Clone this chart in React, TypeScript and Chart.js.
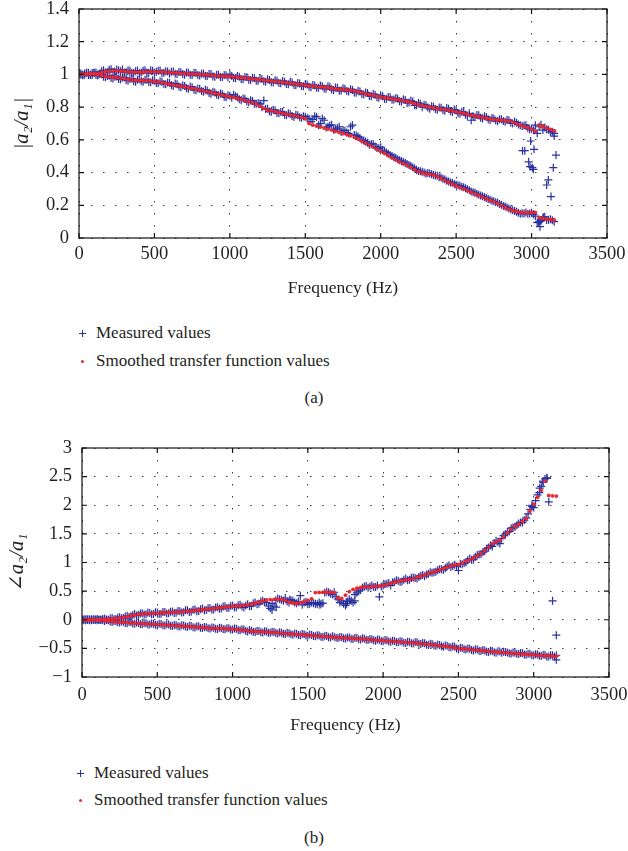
import React, { useEffect, useRef } from 'react';
import { Chart, registerables } from 'chart.js';
Chart.register(...registerables);

const FONT = "'Liberation Serif', 'DejaVu Serif', serif";
const BLUE = 'rgb(40,50,158)';
const RED = 'rgb(236,40,46)';
const INK = '#231f20';

// frequency bins of the samples (Hz): main bins 25 Hz apart (0 … 3150),
// and the in-between measured bins (12.5 … 3137.5)
const freq = Array.from({ length: 127 }, (_, i) => i * 25);
const freqMid = Array.from({ length: 126 }, (_, i) => 12.5 + i * 25);

const xTicks = [0, 500, 1000, 1500, 2000, 2500, 3000, 3500];

// ---------- (a) |a2/a1| ----------
const smoothA_upper = [
  1.000, 1.002, 1.004, 1.005, 1.005, 1.004, 1.012, 1.018,
  1.020, 1.022, 1.022, 1.021, 1.020, 1.017, 1.015, 1.014,
  1.015, 1.015, 1.016, 1.017, 1.017, 1.016, 1.015, 1.014,
  1.012, 1.011, 1.010, 1.007, 1.005, 1.004, 1.003, 1.002,
  1.000, 0.999, 0.998, 0.996, 0.993, 0.991, 0.990, 0.989,
  0.988, 0.985, 0.982, 0.980, 0.978, 0.975, 0.972, 0.970,
  0.968, 0.965, 0.962, 0.960, 0.958, 0.955, 0.952, 0.950,
  0.947, 0.943, 0.940, 0.938, 0.935, 0.930, 0.927, 0.926,
  0.924, 0.922, 0.920, 0.916, 0.912, 0.910, 0.908, 0.906,
  0.903, 0.899, 0.895, 0.888, 0.882, 0.877, 0.872, 0.867,
  0.862, 0.858, 0.855, 0.852, 0.848, 0.844, 0.840, 0.835,
  0.830, 0.822, 0.815, 0.810, 0.805, 0.800, 0.795, 0.791,
  0.788, 0.785, 0.782, 0.777, 0.772, 0.767, 0.762, 0.756,
  0.750, 0.746, 0.742, 0.737, 0.732, 0.728, 0.725, 0.722,
  0.720, 0.718, 0.715, 0.707, 0.698, 0.690, 0.682, 0.674,
  0.665, 0.652, 0.688, 0.682, 0.672, 0.664, 0.656,
];
const measA_upper = [
  1.000, 0.995, 1.008, 1.000, 1.010, 0.998, 1.020, 1.012,
  1.028, 1.015, 1.030, 1.020, 1.012, 1.025, 1.010, 1.020,
  1.008, 1.022, 1.012, 1.025, 1.010, 1.022, 1.008, 1.020,
  1.005, 1.018, 1.003, 1.014, 0.998, 1.010, 0.996, 1.008,
  0.993, 1.006, 0.990, 1.003, 0.986, 0.998, 0.983, 0.995,
  1.000, 0.978, 0.990, 0.972, 0.985, 0.968, 0.980, 0.962,
  0.975, 0.958, 0.970, 0.952, 0.965, 0.948, 0.960, 0.942,
  0.955, 0.936, 0.948, 0.930, 0.942, 0.925, 0.935, 0.918,
  0.932, 0.914, 0.928, 0.908, 0.920, 0.900, 0.915, 0.898,
  0.910, 0.890, 0.900, 0.880, 0.890, 0.868, 0.880, 0.860,
  0.872, 0.850, 0.862, 0.845, 0.856, 0.836, 0.848, 0.826,
  0.840, 0.810, 0.826, 0.800, 0.812, 0.790, 0.802, 0.784,
  0.796, 0.778, 0.790, 0.770, 0.780, 0.760, 0.770, 0.748,
  0.720, 0.738, 0.750, 0.730, 0.740, 0.720, 0.730, 0.715,
  0.726, 0.710, 0.720, 0.700, 0.705, 0.690, 0.688, 0.672,
  0.668, 0.690, 0.680, 0.660, 0.665, 0.648, 0.640,
];
const measA_upperMid = [
  1.006, 0.998, 1.010, 0.996, 1.012, 1.004, 1.025, 1.014,
  1.032, 1.018, 1.026, 1.030, 1.014, 1.022, 1.008, 1.024,
  1.012, 1.026, 1.008, 1.022, 1.016, 1.024, 1.010, 1.018,
  1.016, 1.004, 1.015, 1.002, 1.012, 0.998, 1.010, 0.996,
  1.004, 0.992, 1.002, 0.988, 0.998, 0.984, 0.996, 0.982,
  0.990, 0.976, 0.986, 0.970, 0.982, 0.966, 0.976, 0.962,
  0.972, 0.956, 0.966, 0.950, 0.962, 0.946, 0.956, 0.940,
  0.950, 0.934, 0.944, 0.928, 0.938, 0.922, 0.932, 0.918,
  0.928, 0.912, 0.924, 0.904, 0.918, 0.902, 0.912, 0.896,
  0.905, 0.888, 0.896, 0.878, 0.886, 0.866, 0.876, 0.858,
  0.866, 0.852, 0.860, 0.846, 0.852, 0.834, 0.844, 0.828,
  0.834, 0.812, 0.820, 0.815, 0.798, 0.806, 0.788, 0.798,
  0.782, 0.794, 0.776, 0.785, 0.764, 0.772, 0.754, 0.762,
  0.745, 0.752, 0.735, 0.744, 0.726, 0.734, 0.718, 0.726,
  0.716, 0.722, 0.705, 0.712, 0.694, 0.684, 0.690, 0.664,
  0.658, 0.640, 0.692, 0.676, 0.662, 0.650,
];
const smoothA_lower = [
  1.000, 1.000, 1.002, 1.003, 1.002, 1.000, 0.993, 0.988,
  0.985, 0.983, 0.981, 0.978, 0.975, 0.970, 0.966, 0.965,
  0.964, 0.963, 0.962, 0.960, 0.958, 0.954, 0.950, 0.945,
  0.940, 0.936, 0.932, 0.928, 0.924, 0.920, 0.915, 0.910,
  0.906, 0.900, 0.895, 0.890, 0.884, 0.878, 0.873, 0.868,
  0.864, 0.860, 0.855, 0.848, 0.840, 0.834, 0.828, 0.818,
  0.805, 0.792, 0.782, 0.778, 0.773, 0.768, 0.762, 0.757,
  0.752, 0.748, 0.744, 0.738, 0.730, 0.700, 0.690, 0.684,
  0.678, 0.672, 0.666, 0.660, 0.652, 0.645, 0.638, 0.632,
  0.625, 0.615, 0.605, 0.592, 0.580, 0.568, 0.556, 0.542,
  0.530, 0.518, 0.505, 0.490, 0.478, 0.466, 0.455, 0.445,
  0.432, 0.418, 0.405, 0.398, 0.392, 0.390, 0.385, 0.376,
  0.365, 0.352, 0.340, 0.330, 0.318, 0.310, 0.300, 0.290,
  0.280, 0.270, 0.260, 0.250, 0.240, 0.230, 0.222, 0.212,
  0.200, 0.186, 0.176, 0.168, 0.162, 0.157, 0.155, 0.155,
  0.156, 0.157, 0.125, 0.120, 0.115, 0.112, 0.110,
];
const measA_lower = [
  1.005, 0.998, 1.010, 0.996, 1.008, 0.994, 1.000, 0.982,
  0.992, 0.975, 0.988, 0.970, 0.982, 0.962, 0.975, 0.956,
  0.970, 0.955, 0.968, 0.952, 0.962, 0.946, 0.956, 0.940,
  0.948, 0.930, 0.940, 0.922, 0.930, 0.912, 0.922, 0.904,
  0.912, 0.894, 0.902, 0.882, 0.890, 0.872, 0.880, 0.860,
  0.870, 0.876, 0.860, 0.842, 0.850, 0.830, 0.838, 0.820,
  0.820, 0.840, 0.790, 0.772, 0.780, 0.762, 0.770, 0.750,
  0.760, 0.740, 0.750, 0.735, 0.742, 0.730, 0.725, 0.740,
  0.700, 0.720, 0.680, 0.692, 0.665, 0.680, 0.660, 0.645,
  0.680, 0.630, 0.620, 0.600, 0.590, 0.570, 0.575, 0.550,
  0.555, 0.530, 0.515, 0.502, 0.490, 0.475, 0.465, 0.452,
  0.440, 0.425, 0.410, 0.405, 0.395, 0.395, 0.385, 0.380,
  0.370, 0.358, 0.345, 0.338, 0.325, 0.320, 0.310, 0.298,
  0.285, 0.276, 0.264, 0.255, 0.244, 0.234, 0.224, 0.215,
  0.204, 0.192, 0.180, 0.170, 0.160, 0.148, 0.150, 0.148,
  0.155, 0.134, 0.100, 0.120, 0.110, 0.115, 0.100,
];
const measA_lowerMid = [
  0.998, 1.006, 0.996, 1.008, 0.996, 1.004, 0.986, 0.990,
  0.978, 0.986, 0.972, 0.980, 0.966, 0.974, 0.958, 0.968,
  0.958, 0.968, 0.954, 0.964, 0.948, 0.958, 0.942, 0.950,
  0.934, 0.944, 0.926, 0.934, 0.916, 0.926, 0.906, 0.914,
  0.898, 0.906, 0.886, 0.894, 0.876, 0.884, 0.864, 0.872,
  0.858, 0.866, 0.848, 0.854, 0.834, 0.842, 0.820, 0.826,
  0.800, 0.788, 0.774, 0.784, 0.764, 0.772, 0.754, 0.762,
  0.746, 0.754, 0.738, 0.745, 0.732, 0.712, 0.745, 0.690,
  0.730, 0.676, 0.688, 0.662, 0.672, 0.648, 0.656, 0.640,
  0.690, 0.626, 0.612, 0.596, 0.582, 0.575, 0.560, 0.548,
  0.538, 0.522, 0.508, 0.494, 0.482, 0.470, 0.458, 0.446,
  0.432, 0.418, 0.408, 0.400, 0.398, 0.390, 0.382, 0.372,
  0.362, 0.350, 0.340, 0.330, 0.322, 0.314, 0.304, 0.292,
  0.280, 0.270, 0.260, 0.250, 0.238, 0.228, 0.218, 0.208,
  0.196, 0.186, 0.174, 0.165, 0.155, 0.152, 0.156, 0.150,
  0.145, 0.095, 0.105, 0.130, 0.112, 0.108,
];
// scattered measured points near the upper end of the band
const extraA_freq = [2940, 2955, 2981, 2990, 2994, 3005, 3012, 3016, 3045, 3056, 3062, 3078, 3100, 3111, 3129, 3144, 3150, 3162];
const extraA_val = [0.534, 0.534, 0.466, 0.436, 0.593, 0.430, 0.420, 0.542, 0.094, 0.069, 0.110, 0.127, 0.324, 0.355, 0.253, 0.430, 0.623, 0.507];
const yTicksA = [0, 0.2, 0.4, 0.6, 0.8, 1, 1.2, 1.4];

// ---------- (b) angle a2/a1 ----------
const smoothB_upper = [
  0.000, 0.002, 0.000, 0.000, 0.003, 0.005, 0.010, 0.015,
  0.020, 0.025, 0.030, 0.040, 0.055, 0.070, 0.085, 0.095,
  0.100, 0.105, 0.108, 0.110, 0.113, 0.118, 0.122, 0.127,
  0.130, 0.133, 0.138, 0.142, 0.148, 0.155, 0.163, 0.170,
  0.178, 0.185, 0.190, 0.198, 0.205, 0.212, 0.220, 0.228,
  0.235, 0.240, 0.245, 0.252, 0.260, 0.275, 0.290, 0.310,
  0.330, 0.345, 0.352, 0.355, 0.357, 0.357, 0.335, 0.310,
  0.290, 0.285, 0.300, 0.315, 0.340, 0.365, 0.475, 0.478,
  0.480, 0.480, 0.480, 0.470, 0.380, 0.370, 0.430, 0.490,
  0.530, 0.550, 0.565, 0.575, 0.578, 0.580, 0.582, 0.588,
  0.600, 0.615, 0.635, 0.655, 0.670, 0.685, 0.695, 0.705,
  0.715, 0.745, 0.760, 0.780, 0.800, 0.830, 0.850, 0.870,
  0.895, 0.920, 0.940, 0.955, 0.965, 0.990, 1.020, 1.050,
  1.080, 1.120, 1.160, 1.210, 1.270, 1.330, 1.360, 1.390,
  1.450, 1.520, 1.580, 1.630, 1.670, 1.720, 1.770, 1.900,
  2.020, 2.140, 2.260, 2.420, 2.170, 2.165, 2.160,
];
const measB_upper = [
  0.005, -0.010, 0.010, -0.005, 0.012, -0.004, 0.020, 0.000,
  0.030, 0.015, 0.045, 0.030, 0.070, 0.060, 0.100, 0.085,
  0.115, 0.095, 0.120, 0.100, 0.125, 0.105, 0.135, 0.115,
  0.145, 0.122, 0.150, 0.130, 0.165, 0.140, 0.180, 0.155,
  0.195, 0.170, 0.205, 0.180, 0.220, 0.195, 0.235, 0.210,
  0.250, 0.220, 0.260, 0.215, 0.270, 0.240, 0.300, 0.280,
  0.330, 0.300, 0.200, 0.240, 0.370, 0.350, 0.380, 0.300,
  0.330, 0.290, 0.420, 0.300, 0.270, 0.300, 0.280, 0.300,
  0.290, 0.490, 0.460, 0.480, 0.360, 0.330, 0.250, 0.360,
  0.300, 0.470, 0.520, 0.580, 0.560, 0.600, 0.570, 0.400,
  0.600, 0.630, 0.600, 0.660, 0.680, 0.670, 0.720, 0.700,
  0.740, 0.720, 0.770, 0.760, 0.800, 0.820, 0.840, 0.880,
  0.870, 0.930, 0.920, 0.960, 0.860, 0.970, 1.000, 1.070,
  1.050, 1.130, 1.150, 1.200, 1.260, 1.280, 1.380, 1.330,
  1.470, 1.530, 1.600, 1.620, 1.680, 1.700, 1.780, 1.930,
  1.960, 2.180, 2.330, 2.460, 2.060, 0.330, -0.270,
];
const measB_upperMid = [
  -0.008, 0.008, -0.010, 0.010, -0.006, 0.012, 0.005, 0.020,
  0.010, 0.040, 0.025, 0.055, 0.050, 0.085, 0.075, 0.110,
  0.090, 0.125, 0.095, 0.130, 0.100, 0.135, 0.110, 0.140,
  0.120, 0.155, 0.125, 0.165, 0.135, 0.175, 0.150, 0.185,
  0.165, 0.200, 0.175, 0.215, 0.190, 0.230, 0.205, 0.245,
  0.215, 0.255, 0.230, 0.250, 0.235, 0.290, 0.270, 0.320,
  0.310, 0.240, 0.280, 0.340, 0.360, 0.330, 0.320, 0.340,
  0.300, 0.320, 0.260, 0.310, 0.280, 0.290, 0.270, 0.280,
  0.470, 0.480, 0.440, 0.400, 0.300, 0.280, 0.320, 0.330,
  0.440, 0.500, 0.560, 0.590, 0.580, 0.570, 0.600, 0.580,
  0.620, 0.640, 0.650, 0.690, 0.660, 0.700, 0.690, 0.730,
  0.730, 0.750, 0.780, 0.790, 0.830, 0.830, 0.870, 0.880,
  0.900, 0.950, 0.940, 0.930, 0.980, 0.990, 1.040, 1.050,
  1.100, 1.140, 1.180, 1.240, 1.300, 1.340, 1.360, 1.420,
  1.500, 1.540, 1.610, 1.650, 1.700, 1.740, 1.850, 1.980,
  2.080, 2.220, 2.400, 2.470, null, null,
];
const smoothB_lower = [
  0.000, 0.000, -0.002, 0.000, 0.000, -0.005, -0.015, -0.025,
  -0.032, -0.038, -0.042, -0.046, -0.050, -0.055, -0.060, -0.065,
  -0.068, -0.072, -0.075, -0.078, -0.080, -0.085, -0.090, -0.095,
  -0.100, -0.105, -0.108, -0.112, -0.115, -0.120, -0.125, -0.130,
  -0.135, -0.140, -0.145, -0.148, -0.150, -0.153, -0.156, -0.160,
  -0.163, -0.168, -0.175, -0.185, -0.195, -0.200, -0.205, -0.208,
  -0.212, -0.215, -0.218, -0.222, -0.228, -0.235, -0.240, -0.245,
  -0.250, -0.255, -0.260, -0.265, -0.270, -0.275, -0.280, -0.285,
  -0.290, -0.295, -0.300, -0.305, -0.310, -0.314, -0.318, -0.322,
  -0.326, -0.330, -0.335, -0.340, -0.345, -0.350, -0.355, -0.360,
  -0.365, -0.370, -0.375, -0.380, -0.385, -0.390, -0.395, -0.400,
  -0.405, -0.410, -0.418, -0.425, -0.430, -0.437, -0.445, -0.452,
  -0.460, -0.466, -0.475, -0.488, -0.500, -0.505, -0.510, -0.518,
  -0.525, -0.530, -0.537, -0.545, -0.552, -0.558, -0.563, -0.568,
  -0.572, -0.577, -0.582, -0.588, -0.594, -0.598, -0.603, -0.607,
  -0.612, -0.618, -0.624, -0.628, -0.630, -0.633, -0.636,
];
const measB_lower = [
  -0.005, 0.010, -0.010, 0.008, -0.008, 0.005, -0.020, -0.010,
  -0.040, -0.025, -0.050, -0.035, -0.060, -0.045, -0.070, -0.055,
  -0.078, -0.062, -0.085, -0.068, -0.090, -0.075, -0.100, -0.085,
  -0.110, -0.095, -0.118, -0.100, -0.125, -0.110, -0.135, -0.120,
  -0.145, -0.130, -0.155, -0.138, -0.160, -0.143, -0.165, -0.150,
  -0.172, -0.158, -0.185, -0.172, -0.205, -0.190, -0.215, -0.198,
  -0.222, -0.205, -0.228, -0.212, -0.238, -0.225, -0.250, -0.235,
  -0.260, -0.245, -0.270, -0.255, -0.280, -0.265, -0.290, -0.275,
  -0.300, -0.285, -0.310, -0.295, -0.320, -0.305, -0.328, -0.312,
  -0.335, -0.320, -0.345, -0.330, -0.355, -0.340, -0.365, -0.350,
  -0.375, -0.360, -0.385, -0.370, -0.395, -0.380, -0.405, -0.390,
  -0.415, -0.395, -0.425, -0.410, -0.440, -0.425, -0.452, -0.440,
  -0.470, -0.455, -0.485, -0.470, -0.510, -0.495, -0.520, -0.505,
  -0.535, -0.520, -0.545, -0.535, -0.565, -0.548, -0.575, -0.555,
  -0.560, -0.570, -0.590, -0.575, -0.600, -0.585, -0.610, -0.595,
  -0.620, -0.605, -0.635, -0.615, -0.640, -0.620, -0.700,
];
const measB_lowerMid = [
  0.008, -0.006, 0.010, -0.004, 0.006, -0.010, -0.005, -0.030,
  -0.020, -0.045, -0.030, -0.055, -0.040, -0.065, -0.050, -0.075,
  -0.060, -0.082, -0.065, -0.088, -0.072, -0.095, -0.080, -0.105,
  -0.090, -0.115, -0.098, -0.120, -0.105, -0.130, -0.115, -0.140,
  -0.125, -0.150, -0.135, -0.158, -0.140, -0.162, -0.148, -0.170,
  -0.155, -0.178, -0.165, -0.195, -0.180, -0.210, -0.195, -0.218,
  -0.200, -0.225, -0.208, -0.232, -0.218, -0.245, -0.228, -0.255,
  -0.240, -0.265, -0.250, -0.275, -0.258, -0.285, -0.270, -0.295,
  -0.280, -0.305, -0.290, -0.315, -0.300, -0.322, -0.308, -0.330,
  -0.315, -0.340, -0.325, -0.350, -0.335, -0.360, -0.345, -0.370,
  -0.355, -0.380, -0.365, -0.390, -0.375, -0.400, -0.385, -0.410,
  -0.392, -0.420, -0.405, -0.435, -0.420, -0.448, -0.432, -0.462,
  -0.450, -0.478, -0.462, -0.500, -0.488, -0.515, -0.500, -0.528,
  -0.515, -0.540, -0.528, -0.558, -0.542, -0.568, -0.550, -0.578,
  -0.562, -0.585, -0.572, -0.595, -0.580, -0.605, -0.592, -0.618,
  -0.602, -0.628, -0.612, -0.645, -0.622, -0.645,
];
const extraB_freq = [1262, 1290, 1380, 1580, 1758, 1812, 2990, 3040, 3062, 3088, 3150];
const extraB_val = [0.17, 0.22, 0.35, 0.26, 0.28, 0.33, 2.0, 2.3, 2.42, 2.48, -0.62];
const yTicksB = [-1, -0.5, 0, 0.5, 1, 1.5, 2, 2.5, 3];

const legendLabels = ['Measured values', 'Smoothed transfer function values'];

const pts = (xs: number[], ys: (number | null)[]) => xs.map((x, i) => ({ x, y: ys[i] }));

const framePlugin = {
  id: 'frame',
  afterDatasetsDraw(chart: any) {
    const { ctx, chartArea, scales } = chart;
    const { left, right, top, bottom } = chartArea;
    ctx.save();
    ctx.strokeStyle = '#111';
    ctx.lineWidth = 1.2;
    ctx.strokeRect(left, top, right - left, bottom - top);
    const tl = 5;
    ctx.beginPath();
    scales.x.ticks.forEach((t: any) => {
      const px = scales.x.getPixelForValue(t.value);
      ctx.moveTo(px, bottom); ctx.lineTo(px, bottom - tl);
      ctx.moveTo(px, top); ctx.lineTo(px, top + tl);
    });
    scales.y.ticks.forEach((t: any) => {
      const py = scales.y.getPixelForValue(t.value);
      ctx.moveTo(left, py); ctx.lineTo(left + tl, py);
      ctx.moveTo(right, py); ctx.lineTo(right - tl, py);
    });
    ctx.stroke();
    ctx.restore();
  },
};

type Spec = {
  height: number;
  yMin: number; yMax: number; yTicks: number[];
  yTitle: string;
  axisLeft: number; padTop: number; padRight: number; xHeight: number;
  yTickPad: number; xTickPad: number; xTitlePad: number; yTitlePad: number;
  smoothU: number[]; smoothL: number[];
  measU: number[]; measL: number[]; measUMid: (number | null)[]; measLMid: number[];
  exF: number[]; exV: number[];
};

const fmt = (v: number) => {
  const r = Math.round(v * 10) / 10;
  return r < 0 ? '\u2212' + String(Math.abs(r)) : String(r);
};

function makeConfig(s: Spec): any {
  const meas = (data: any[], label: string) => ({
    label, data, order: 1,
    pointStyle: 'cross', pointRadius: 4, pointHoverRadius: 4,
    pointBorderColor: BLUE, pointBackgroundColor: BLUE, pointBorderWidth: 1.2,
    showLine: false,
  });
  const smooth = (data: any[], label: string) => ({
    label, data, order: 0,
    pointStyle: 'circle', pointRadius: 1.9, pointHoverRadius: 1.9,
    pointBorderWidth: 0, pointBackgroundColor: RED, pointBorderColor: RED,
    showLine: false,
  });
  return {
    type: 'scatter',
    data: {
      datasets: [
        smooth(pts(freq, s.smoothU), legendLabels[1]),
        smooth(pts(freq, s.smoothL), legendLabels[1]),
        meas(pts(freq, s.measU), legendLabels[0]),
        meas(pts(freqMid, s.measUMid), legendLabels[0]),
        meas(pts(freq, s.measL), legendLabels[0]),
        meas(pts(freqMid, s.measLMid), legendLabels[0]),
        meas(pts(s.exF, s.exV), legendLabels[0]),
      ],
    },
    options: {
      responsive: false,
      animation: false,
      devicePixelRatio: 1,
      events: [],
      layout: { padding: { left: 0, top: s.padTop, right: s.padRight, bottom: 0 } },
      plugins: { legend: { display: false }, tooltip: { enabled: false } },
      scales: {
        x: {
          type: 'linear', min: 0, max: 3500,
          afterBuildTicks: (sc: any) => { sc.ticks = xTicks.map((v) => ({ value: v })); },
          afterFit: (sc: any) => { sc.height = s.xHeight; sc.paddingLeft = 0; sc.paddingRight = 0; },
          ticks: {
            autoSkip: false, maxRotation: 0, padding: s.xTickPad, color: INK,
            font: { family: FONT, size: 18.5 },
            callback: (v: any) => String(v),
          },
          grid: { color: 'rgba(25,25,25,0.85)', lineWidth: 1, drawTicks: false },
          border: { display: false, dash: [1.5, 10.5] },
          title: {
            display: true, text: 'Frequency (Hz)', color: INK,
            font: { family: FONT, size: 17.5 },
            padding: { top: 0, bottom: s.xTitlePad },
          },
        },
        y: {
          type: 'linear', min: s.yMin, max: s.yMax,
          afterBuildTicks: (sc: any) => { sc.ticks = s.yTicks.map((v) => ({ value: v })); },
          afterFit: (sc: any) => { sc.width = s.axisLeft; sc.paddingTop = 0; sc.paddingBottom = 0; },
          ticks: {
            autoSkip: false, padding: s.yTickPad, color: INK,
            font: { family: FONT, size: 18.5 },
            callback: (v: any) => fmt(Number(v)),
          },
          grid: { color: 'rgba(25,25,25,0.85)', lineWidth: 1, drawTicks: false },
          border: { display: false, dash: [1.5, 10.5] },
          title: {
            display: true, text: s.yTitle, color: INK,
            font: { family: FONT, size: 20.5, style: 'italic' },
            padding: { top: s.yTitlePad, bottom: 0 },
          },
        },
      },
    },
    plugins: [framePlugin],
  };
}

function Plot({ spec, top }: { spec: Spec; top: number }) {
  const ref = useRef<HTMLCanvasElement>(null);
  useEffect(() => {
    const chart = new Chart(ref.current as HTMLCanvasElement, makeConfig(spec));
    return () => chart.destroy();
  }, []);
  return (
    <canvas
      ref={ref}
      width={628}
      height={spec.height}
      style={{ position: 'absolute', left: 0, top, width: 628, height: spec.height }}
    />
  );
}

const textStyle: React.CSSProperties = {
  position: 'absolute', fontFamily: FONT, fontSize: 17, color: INK,
  lineHeight: '20px', whiteSpace: 'nowrap',
};

function Legend({ y1, y2, mx, tx }: { y1: number; y2: number; mx: number; tx: number }) {
  return (
    <>
      <div style={{ position: 'absolute', left: mx - 3.5, top: y1 - 0.5, width: 7, height: 1, background: BLUE }} />
      <div style={{ position: 'absolute', left: mx - 0.5, top: y1 - 3.5, width: 1, height: 7, background: BLUE }} />
      <div style={{ ...textStyle, left: tx, top: y1 - 10 }}>{legendLabels[0]}</div>
      <div style={{ position: 'absolute', left: mx - 1.5, top: y2 - 1.5, width: 3, height: 3, borderRadius: 2, background: RED }} />
      <div style={{ ...textStyle, left: tx, top: y2 - 10 }}>{legendLabels[1]}</div>
    </>
  );
}

const specA: Spec = {
  height: 300,
  yMin: 0, yMax: 1.4, yTicks: yTicksA,
  yTitle: '|a\u2082/a\u2081|',
  axisLeft: 79, padTop: 9, padRight: 21, xHeight: 62,
  yTickPad: 10, xTickPad: 5.5, xTitlePad: 1.5, yTitlePad: 10,
  smoothU: smoothA_upper, smoothL: smoothA_lower,
  measU: measA_upper, measL: measA_lower, measUMid: measA_upperMid, measLMid: measA_lowerMid,
  exF: extraA_freq, exV: extraA_val,
};

const specB: Spec = {
  height: 300,
  yMin: -1, yMax: 3, yTicks: yTicksB,
  yTitle: '\u2220a\u2082/a\u2081',
  axisLeft: 82, padTop: 8, padRight: 19, xHeight: 63,
  yTickPad: 10, xTickPad: 7.4, xTitlePad: 4, yTitlePad: 5,
  smoothU: smoothB_upper, smoothL: smoothB_lower,
  measU: measB_upper, measL: measB_lower, measUMid: measB_upperMid, measLMid: measB_lowerMid,
  exF: extraB_freq, exV: extraB_val,
};

export default function App() {
  return (
    <div style={{ position: 'absolute', left: 0, top: 0, width: 628, height: 851, background: '#fff', overflow: 'hidden' }}>
      <Plot spec={specA} top={0} />
      <Legend y1={333} y2={361} mx={82} tx={96} />
      <div style={{ ...textStyle, left: 0, width: 628, textAlign: 'center', top: 388 }}>(a)</div>
      <Plot spec={specB} top={440} />
      <Legend y1={773} y2={800} mx={80} tx={94} />
      <div style={{ ...textStyle, left: 0, width: 628, textAlign: 'center', top: 828 }}>(b)</div>
    </div>
  );
}
